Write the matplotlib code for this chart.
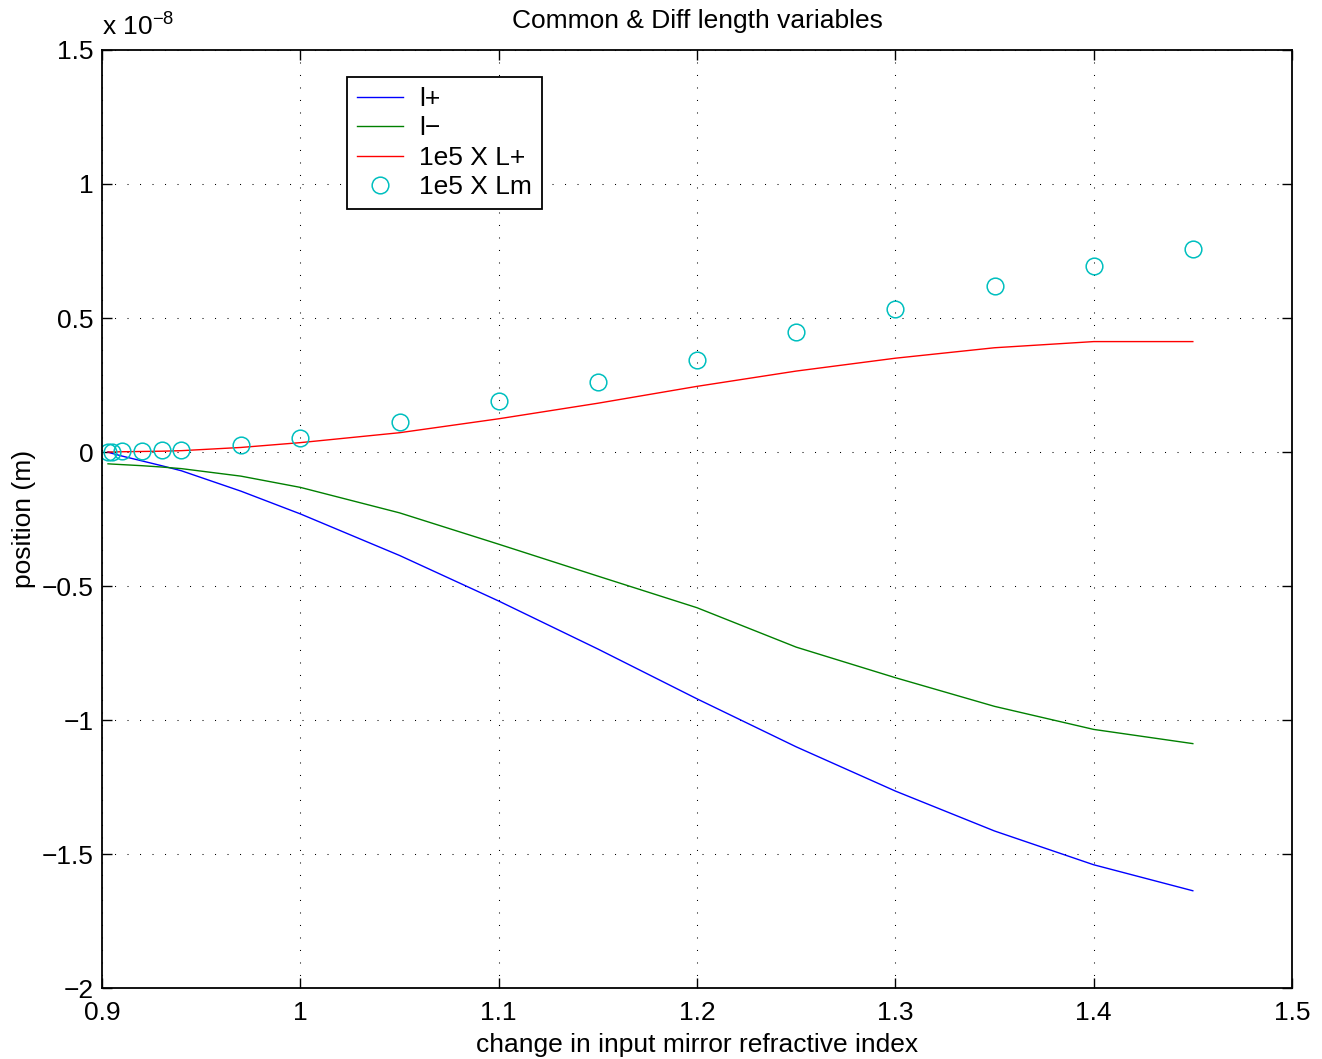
import matplotlib
matplotlib.use("Agg")
import matplotlib.pyplot as plt
from matplotlib.ticker import FuncFormatter

plt.rcParams['font.family'] = ['Liberation Sans', 'DejaVu Sans']
plt.rcParams['mathtext.fontset'] = 'custom'
plt.rcParams['mathtext.rm'] = 'Liberation Sans'
plt.rcParams['mathtext.it'] = 'Liberation Sans'

# refractive index change (x axis)
index_change = [0.903, 0.905, 0.91, 0.92, 0.93, 0.94, 0.97, 1.0, 1.05, 1.1,
                1.15, 1.2, 1.25, 1.3, 1.35, 1.4, 1.45]

# positions in units of 1e-8 m
l_plus = [0.0, -0.005, -0.015, -0.033, -0.051, -0.07, -0.146, -0.231, -0.386,
          -0.556, -0.735, -0.921, -1.100, -1.265, -1.414, -1.540, -1.637]
l_minus = [-0.044, -0.045, -0.047, -0.051, -0.056, -0.062, -0.090, -0.132,
           -0.227, -0.344, -0.463, -0.581, -0.728, -0.842, -0.949, -1.035, -1.088]
L_plus_1e5 = [0.0, 0.0, 0.001, 0.002, 0.003, 0.005, 0.017, 0.035, 0.072, 0.124,
              0.182, 0.245, 0.302, 0.350, 0.389, 0.412, 0.412]
L_minus_1e5 = [0.0, 0.0, 0.002, 0.004, 0.006, 0.009, 0.025, 0.051, 0.112, 0.189,
               0.262, 0.344, 0.448, 0.534, 0.618, 0.695, 0.757]

x_ticks = [0.9, 1.0, 1.1, 1.2, 1.3, 1.4, 1.5]
y_ticks = [-2, -1.5, -1, -0.5, 0, 0.5, 1, 1.5]

FS = 19

fig = plt.figure(figsize=(13.22, 10.59), dpi=100)
ax = fig.add_axes([0.0772, 0.0670, 0.9001, 0.8858])

ax.plot(index_change, l_plus, color='#0000FF', lw=1.0, label='l+')
ax.plot(index_change, l_minus, color='#008000', lw=1.0, label='l\u2212')
ax.plot(index_change, L_plus_1e5, color='#FF0000', lw=1.0, label='1e5 X L+')
ax.plot(index_change, L_minus_1e5, linestyle='none', marker='o', markersize=12,
        markerfacecolor='none', markeredgecolor='#00BFBF', markeredgewidth=1.1,
        label='1e5 X Lm')

ax.set_xlim(0.9, 1.5)
ax.set_ylim(-2, 1.5)
ax.set_xticks(x_ticks)
ax.set_yticks(y_ticks)

def fmt(v, pos):
    s = '%g' % round(v, 6)
    return s.replace('-', '\u2212')

ax.xaxis.set_major_formatter(FuncFormatter(fmt))
ax.yaxis.set_major_formatter(FuncFormatter(fmt))

ax.tick_params(direction='in', length=7, width=1.0, top=True, right=True,
               labelsize=FS)
ax.tick_params(axis='x', pad=9)
ax.tick_params(axis='y', pad=6)
for s in ax.spines.values():
    s.set_linewidth(1.3)

ax.grid(True, color='black', linewidth=0.75, linestyle=(0, (1, 11)))

ax.set_title('Common & Diff length variables', fontsize=FS, pad=16)
ax.set_xlabel('change in input mirror refractive index', fontsize=FS, labelpad=6)
ax.set_ylabel('position (m)', fontsize=FS, labelpad=4)

ax.text(0.0, 1.01, r'x 10$^{-8}$', transform=ax.transAxes,
        fontsize=FS, ha='left', va='bottom')

leg = ax.legend(loc='upper left', bbox_to_anchor=(0.206, 0.971), fontsize=FS,
                fancybox=False, framealpha=1, edgecolor='black',
                handlelength=1.75, handletextpad=0.6, borderpad=0.38,
                labelspacing=0.2, borderaxespad=0)
leg.get_frame().set_linewidth(1.3)

fig.savefig('out.png', dpi=100)
